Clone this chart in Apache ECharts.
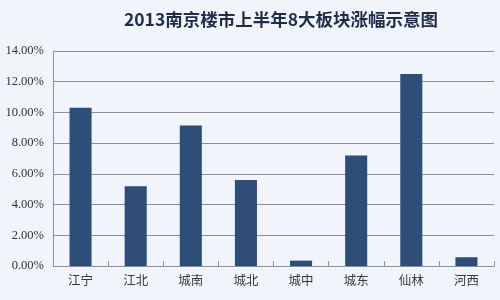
<!DOCTYPE html>
<html><head><meta charset="utf-8">
<script src="https://cdn.jsdelivr.net/npm/echarts@6/dist/echarts.min.js"></script>
<style>html,body{margin:0;padding:0;background:#f1f4fa}#c{width:500px;height:300px}</style>
</head><body><div id="c"></div>
<script>
const categories = ['江宁','江北','城南','城北','城中','城东','仙林','河西'];
const values = [10.3, 5.2, 9.15, 5.6, 0.35, 7.2, 12.5, 0.57];
const yTicks = [0, 14, 2];
const chart = echarts.init(document.getElementById('c'));
chart.setOption({
  backgroundColor: '#f1f4fa',
  title: {text: '2013南京楼市上半年8大板块涨幅示意图', left: 276, textAlign: 'center', top: 6,
    textStyle: {fontSize: 17.5, fontWeight: 'bold', color: '#1f2d4a', fontFamily: '"Noto Sans CJK SC", serif'}},
  grid: {left: 53, right: 6, top: 51, bottom: 34},
  xAxis: {type: 'category', data: categories,
    axisLine: {lineStyle: {color: '#8a8f9a', width: 1}},
    axisTick: {show: true, inside: true, length: 5, lineStyle: {color: '#8a8f9a'}},
    axisLabel: {color: '#3a3a3a', fontSize: 12.5, margin: 8, fontFamily: '"Noto Sans CJK SC", sans-serif'}},
  yAxis: {type: 'value', min: yTicks[0], max: yTicks[1], interval: yTicks[2],
    axisLine: {show: true, lineStyle: {color: '#8a8f9a'}},
    axisTick: {show: false},
    splitLine: {lineStyle: {color: '#8a8f9a', width: 1}},
    axisLabel: {color: '#333', fontSize: 12.5, margin: 9, fontFamily: '"Liberation Serif", serif',
      formatter: v => v.toFixed(2) + '%'}},
  series: [{type: 'bar', data: values, barWidth: '40%', itemStyle: {color: '#2e4e78'}}],
  animation: false
});
</script></body></html>
